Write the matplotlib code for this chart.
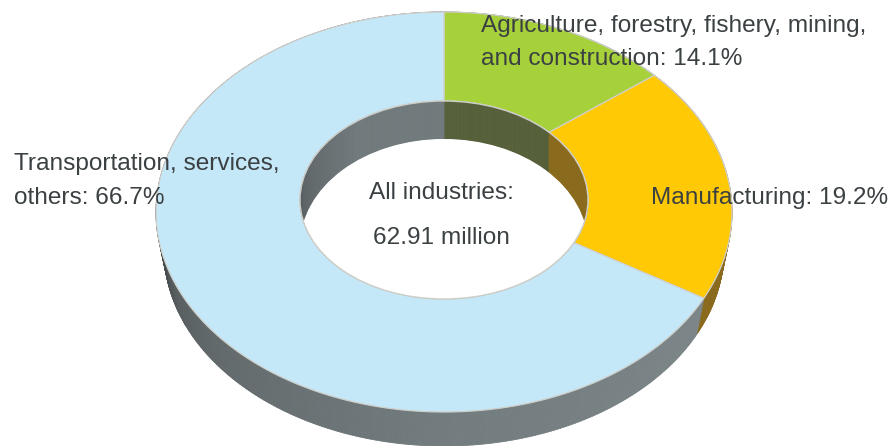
import numpy as np
import matplotlib
matplotlib.use('Agg')
import matplotlib.pyplot as plt
from matplotlib.collections import PolyCollection
from matplotlib.patches import Ellipse

plt.rcParams['font.family'] = ['Liberation Sans', 'DejaVu Sans']

sectors = ['Agriculture', 'Manufacturing', 'Transportation']
shares = [14.1, 19.2, 66.7]
top_colors = ['#a6d13a', '#ffc905', '#c5e8f9']
wall_colors = ['#55603a', '#8a6a1c', '#7f898c']

W, H = 891, 446
CX = 444
# (centre y, x radius, y radius) of each rim
OUTER_TOP = (212, 288, 200)
OUTER_BOTTOM = (250, 280, 196)
INNER_TOP = (200, 144, 99)
INNER_BOTTOM = (245.6, 144, 106.6)
RIM = '#cfcfca'
TEXT = '#3b4042'


def warp(t):
    # the far half of the ring is foreshortened by the tilted view
    return t - np.radians(5) * np.sin(t)


def rim(t, ellipse):
    cy, rx, ry = ellipse
    t = warp(t)
    return CX + rx * np.sin(t), cy - ry * np.cos(t)


def slice_range(i):
    edges = np.cumsum([0] + shares) / sum(shares) * 2 * np.pi
    return edges[i], edges[i + 1]


def shaded(color, f):
    return tuple(np.array(matplotlib.colors.to_rgb(color)) * f)


def wall(top, bottom, stops, factors):
    polys, cols = [], []
    for i in range(len(shares)):
        a, b = slice_range(i)
        ts = np.linspace(a, b, int((b - a) * 90) + 2)
        for t0, t1 in zip(ts[:-1], ts[1:]):
            polys.append([rim(t0, top), rim(t1, top), rim(t1, bottom), rim(t0, bottom)])
            f = np.interp(np.degrees(t0), stops, factors)
            # only the grey wall carries the shading
            cols.append(shaded(wall_colors[i], f if i == 2 else 1.0))
    return PolyCollection(polys, facecolors=cols, edgecolors=cols, linewidths=0.6)


fig = plt.figure(figsize=(W / 100, H / 100), dpi=100, facecolor='white')
ax = fig.add_axes([0, 0, 1, 1])
ax.set_xlim(0, W)
ax.set_ylim(H, 0)
ax.axis('off')

# outer wall
ax.add_collection(wall(OUTER_TOP, OUTER_BOTTOM,
                       [100, 180, 225, 245, 262], [1.0, 0.9, 0.78, 0.7, 0.52]))

# top face of the ring
for i in range(len(shares)):
    a, b = slice_range(i)
    ts = np.linspace(a, b, 200)
    ox, oy = rim(ts, OUTER_TOP)
    ix, iy = rim(ts[::-1], INNER_TOP)
    ax.fill(np.r_[ox, ix], np.r_[oy, iy], facecolor=top_colors[i],
            edgecolor=RIM, linewidth=0.9, joinstyle='round')

# hole: inner wall, then the white floor, both kept inside the inner rim
hole = Ellipse((CX, INNER_TOP[0]), 2 * INNER_TOP[1], 2 * INNER_TOP[2],
               facecolor='none', edgecolor='none')
ax.add_patch(hole)
inner = wall(INNER_TOP, INNER_BOTTOM, [270, 290, 320, 360], [0.68, 0.78, 0.88, 0.88])
ax.add_collection(inner)
inner.set_clip_path(hole)
floor = Ellipse((CX, INNER_BOTTOM[0]), 2 * INNER_BOTTOM[1], 2 * INNER_BOTTOM[2],
                facecolor='white', edgecolor='none')
ax.add_patch(floor)
floor.set_clip_path(hole)
ax.add_patch(Ellipse((CX, INNER_TOP[0]), 2 * INNER_TOP[1], 2 * INNER_TOP[2],
                     facecolor='none', edgecolor=RIM, linewidth=1.0))

labels = [
    (481, 26, 'Agriculture, forestry, fishery, mining,', 'left'),
    (481, 59, 'and construction: 14.1%', 'left'),
    (651, 198, 'Manufacturing: 19.2%', 'left'),
    (14, 164, 'Transportation, services,', 'left'),
    (14, 198, 'others: 66.7%', 'left'),
    (441, 193, 'All industries:', 'center'),
    (441, 238, '62.91 million', 'center'),
]
for x, y, s, ha in labels:
    ax.text(x, y, s, ha=ha, va='center', fontsize=17.6, color=TEXT)

fig.savefig('out.png', dpi=100)
